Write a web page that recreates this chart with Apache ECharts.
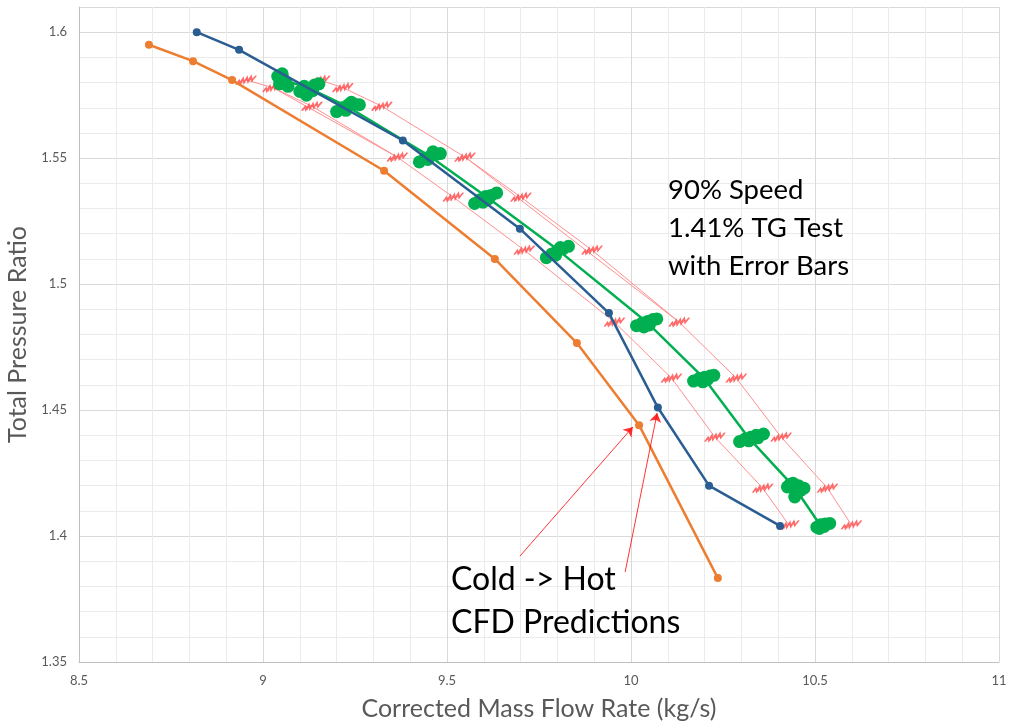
<!DOCTYPE html>
<html>
<head>
<meta charset="utf-8">
<script src="https://cdn.jsdelivr.net/npm/echarts@6/dist/echarts.min.js"></script>
<style>html,body{margin:0;padding:0;background:#fff}#c{width:1009px;height:728px}</style>
</head>
<body>
<div id="c"></div>
<script>
// CFD predictions (cold, blue) and (hot, orange)
const coldX = [8.82, 8.935, 9.38, 9.698, 9.94, 10.073, 10.212, 10.405];
const coldY = [1.600, 1.593, 1.557, 1.522, 1.4885, 1.451, 1.420, 1.404];
const hotX = [8.69, 8.81, 8.916, 9.329, 9.63, 9.853, 10.022, 10.236];
const hotY = [1.595, 1.5885, 1.581, 1.545, 1.510, 1.4766, 1.444, 1.3833];
// Test operating point means
const testX = [9.054, 9.122, 9.228, 9.457, 9.609, 9.802, 10.043, 10.198, 10.318, 10.446, 10.514];
const testY = [1.581, 1.578, 1.5706, 1.5504, 1.5345, 1.5135, 1.4849, 1.4627, 1.4393, 1.419, 1.4044];
// Horizontal (mass flow) error half-widths per point
const errX = [0.10, 0.095, 0.095, 0.092, 0.092, 0.092, 0.088, 0.088, 0.09, 0.088, 0.085];
// Individual test samples
const sampleX = [
  9.040, 9.052, 9.062, 9.045, 9.068, 9.055,
  9.100, 9.112, 9.128, 9.140, 9.152, 9.118, 9.135,
  9.200, 9.215, 9.232, 9.248, 9.262, 9.225, 9.240,
  9.425, 9.440, 9.455, 9.470, 9.482, 9.448, 9.462,
  9.575, 9.590, 9.605, 9.620, 9.635, 9.612, 9.598,
  9.770, 9.785, 9.800, 9.815, 9.830, 9.795, 9.808,
  10.015, 10.030, 10.045, 10.060, 10.070, 10.035, 10.050,
  10.170, 10.185, 10.200, 10.215, 10.225, 10.195, 10.208,
  10.295, 10.310, 10.325, 10.340, 10.360, 10.320, 10.345,
  10.425, 10.440, 10.455, 10.470, 10.448, 10.445, 10.460, 10.432,
  10.505, 10.515, 10.528, 10.540, 10.512, 10.525
];
const sampleY = [
  1.5825, 1.5835, 1.5800, 1.5795, 1.5785, 1.5815,
  1.5765, 1.5785, 1.5775, 1.5790, 1.5795, 1.5750, 1.5768,
  1.5685, 1.5700, 1.5712, 1.5715, 1.5712, 1.5690, 1.5722,
  1.5485, 1.5500, 1.5508, 1.5515, 1.5518, 1.5495, 1.5525,
  1.5320, 1.5335, 1.5348, 1.5352, 1.5362, 1.5338, 1.5325,
  1.5105, 1.5120, 1.5132, 1.5140, 1.5150, 1.5115, 1.5145,
  1.4835, 1.4845, 1.4852, 1.4860, 1.4862, 1.4830, 1.4838,
  1.4615, 1.4625, 1.4630, 1.4635, 1.4638, 1.4612, 1.4622,
  1.4375, 1.4385, 1.4392, 1.4400, 1.4405, 1.4378, 1.4390,
  1.4195, 1.4210, 1.4200, 1.4190, 1.4170, 1.4155, 1.4180, 1.4205,
  1.4035, 1.4045, 1.4048, 1.4050, 1.4030, 1.4038
];
// Annotation arrows: [startX, startY, tipX, tipY]
const arrowHot = [9.698, 1.392, 10.005, 1.4433];
const arrowCold = [9.984, 1.3857, 10.071, 1.4488];

const zip = (a, b) => a.map((v, i) => [v, b[i]]);
const lowPts = testX.map((v, i) => [v - errX[i], testY[i]]);
const highPts = testX.map((v, i) => [v + errX[i], testY[i]]);
const errLineStyle = { color: '#ff8f8f', width: 1 };
const scribble = 'path://M0,9 L3,5 L4,8 L7,3 L8,7 L11,2 L12,6 L15,1 L16,5 L20,0 M2,6 L18,3 M5,8 L6,4 M13,5 L14,2';

const chart = echarts.init(document.getElementById('c'));
chart.setOption({
  animation: false,
  backgroundColor: '#fff',
  textStyle: { fontFamily: 'Lato' },
  grid: { left: 79, right: 10, top: 7, bottom: 66, outerBoundsMode: 'none', containLabel: false },
  xAxis: {
    type: 'value', min: 8.5, max: 11, interval: 0.5, splitNumber: 5,
    name: 'Corrected Mass Flow Rate (kg/s)', nameLocation: 'middle', nameGap: 34,
    nameTextStyle: { fontSize: 25, color: '#595959', fontFamily: 'Lato' },
    axisLine: { show: true, lineStyle: { color: '#bfbfbf', width: 1 } },
    axisTick: { show: false },
    axisLabel: { color: '#595959', fontSize: 13, margin: 12 },
    splitLine: { show: true, lineStyle: { color: '#d9d9d9', width: 1 } },
    minorSplitLine: { show: true, lineStyle: { color: '#ebebeb', width: 1 } }
  },
  yAxis: {
    type: 'value', min: 1.35, max: 1.61, interval: 0.05, splitNumber: 5,
    name: 'Total Pressure Ratio', nameLocation: 'middle', nameGap: 44, nameRotate: 90,
    nameTextStyle: { fontSize: 25, color: '#595959', fontFamily: 'Lato' },
    axisLine: { show: true, lineStyle: { color: '#bfbfbf', width: 1 } },
    axisTick: { show: false },
    axisLabel: { color: '#595959', fontSize: 13, margin: 12, showMaxLabel: false,
      formatter: v => (Math.abs(v - 1.61) < 1e-6 ? '' : String(+v.toFixed(2))) },
    splitLine: { show: true, lineStyle: { color: '#d9d9d9', width: 1 } },
    minorSplitLine: { show: true, lineStyle: { color: '#ebebeb', width: 1 } }
  },
  series: [
    { type: 'line', data: lowPts, symbol: 'none', lineStyle: errLineStyle, z: 2 },
    { type: 'line', data: highPts, symbol: 'none', lineStyle: errLineStyle, z: 2 },
    { type: 'line', data: [lowPts[1], lowPts[3]], symbol: 'none', lineStyle: errLineStyle, z: 2 },
    { type: 'line', data: [highPts[3], highPts[6]], symbol: 'none', lineStyle: errLineStyle, z: 2 },
    { type: 'scatter', data: lowPts.concat(highPts), symbol: scribble, symbolSize: [20, 9],
      itemStyle: { color: 'rgba(0,0,0,0)', borderColor: '#ff4545', borderWidth: 1.3 }, z: 3 },
    { type: 'line', data: zip(testX, testY), symbol: 'none',
      lineStyle: { color: '#00b050', width: 2.5 }, z: 4 },
    { type: 'scatter', data: zip(sampleX, sampleY), symbol: 'circle', symbolSize: 13,
      itemStyle: { color: '#00b050', opacity: 1 }, z: 5 },
    { type: 'line', data: zip(hotX, hotY), symbol: 'circle', symbolSize: 8,
      lineStyle: { color: '#ed7d31', width: 2.5 }, itemStyle: { color: '#ed7d31' }, z: 6 },
    { type: 'line', data: zip(coldX, coldY), symbol: 'circle', symbolSize: 8,
      lineStyle: { color: '#2a5d92', width: 2.5 }, itemStyle: { color: '#2a5d92' }, z: 7 },
    { type: 'lines', coordinateSystem: 'cartesian2d', symbol: ['none', 'arrow'], symbolSize: 9,
      lineStyle: { color: '#ff0000', width: 1, opacity: 0.8, curveness: 0 },
      data: [
        { coords: [[arrowHot[0], arrowHot[1]], [arrowHot[2], arrowHot[3]]] },
        { coords: [[arrowCold[0], arrowCold[1]], [arrowCold[2], arrowCold[3]]] }
      ], z: 8 }
  ],
  graphic: [
    { type: 'text', left: 668, top: 171, z: 10,
      style: { text: '90% Speed\n1.41% TG Test\nwith Error Bars', font: '27.5px Lato', lineHeight: 38, fill: '#000' } },
    { type: 'text', left: 451, top: 558, z: 10,
      style: { text: 'Cold -> Hot\nCFD Predictions', font: '32px Lato', lineHeight: 43, fill: '#000' } }
  ]
});
</script>
</body>
</html>
